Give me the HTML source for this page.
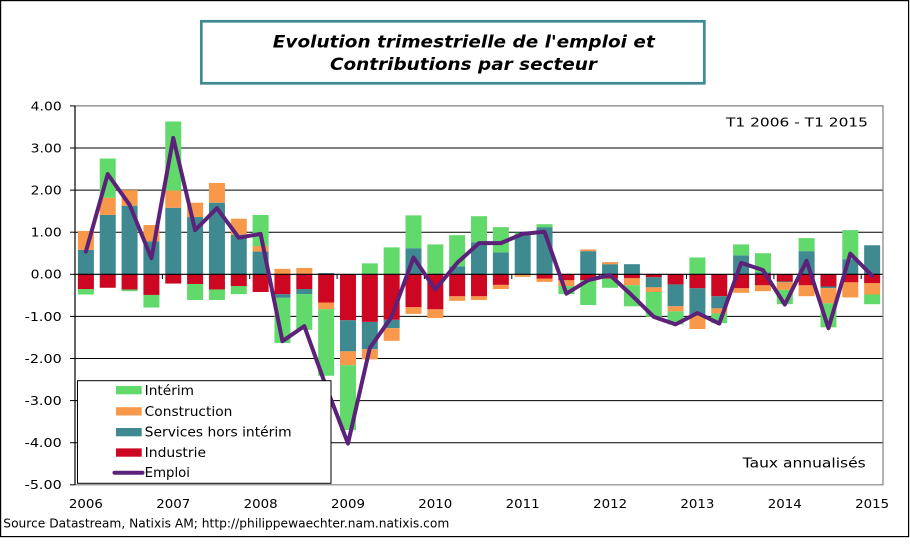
<!DOCTYPE html>
<html><head><meta charset="utf-8"><style>
html,body{margin:0;padding:0;background:#fff;}
svg{display:block;}
text{font-family:"DejaVu Sans","Liberation Sans",sans-serif;}
</style></head><body>
<svg width="910" height="545" viewBox="0 0 910 545" xmlns="http://www.w3.org/2000/svg">
<rect x="0" y="0" width="910" height="545" fill="#fff"/>
<rect x="0.6" y="0.6" width="908" height="536" fill="none" stroke="#000" stroke-width="1.2"/>
<!-- title -->
<rect x="201.3" y="21.3" width="503" height="62" fill="#fff" stroke="#3e8a90" stroke-width="2.7"/>
<text x="463.8" y="47.3" text-anchor="middle" font-size="17" font-weight="bold" font-style="italic" textLength="382" lengthAdjust="spacingAndGlyphs">Evolution trimestrielle de l'emploi et</text>
<text x="463.5" y="70" text-anchor="middle" font-size="17" font-weight="bold" font-style="italic" textLength="267" lengthAdjust="spacingAndGlyphs">Contributions par secteur</text>
<!-- gridlines -->
<g stroke="#000" stroke-width="1">
<line x1="75" y1="148" x2="883" y2="148"/>
<line x1="75" y1="190.1" x2="883" y2="190.1"/>
<line x1="75" y1="232.2" x2="883" y2="232.2"/>
<line x1="75" y1="316.4" x2="883" y2="316.4"/>
<line x1="75" y1="358.5" x2="883" y2="358.5"/>
<line x1="75" y1="400.6" x2="883" y2="400.6"/>
<line x1="75" y1="442.7" x2="883" y2="442.7"/>
</g>
<!-- bars -->
<g transform="translate(0,274.3) scale(1,-42.1)">
<g fill="#3e8a90">
<rect x="77.9" y="0" width="16" height="0.58"/>
<rect x="99.74" y="0" width="16" height="1.41"/>
<rect x="121.58" y="0" width="16" height="1.63"/>
<rect x="143.42" y="0" width="16" height="0.78"/>
<rect x="165.26" y="0" width="16" height="1.58"/>
<rect x="187.1" y="0" width="16" height="1.36"/>
<rect x="208.94" y="0" width="16" height="1.70"/>
<rect x="230.78" y="0" width="16" height="0.94"/>
<rect x="252.62" y="0" width="16" height="0.54"/>
<rect x="274.46" y="-0.56" width="16" height="0.09"/>
<rect x="296.3" y="-0.47" width="16" height="0.12"/>
<rect x="318.14" y="0" width="16" height="0.03"/>
<rect x="339.98" y="-1.83" width="16" height="0.74"/>
<rect x="361.82" y="-1.78" width="16" height="0.65"/>
<rect x="383.66" y="-1.28" width="16" height="0.20"/>
<rect x="405.5" y="0" width="16" height="0.62"/>
<rect x="449.18" y="0" width="16" height="0.19"/>
<rect x="471.02" y="0" width="16" height="0.76"/>
<rect x="492.86" y="0" width="16" height="0.52"/>
<rect x="514.7" y="0" width="16" height="0.93"/>
<rect x="536.54" y="0" width="16" height="1.12"/>
<rect x="580.22" y="0" width="16" height="0.55"/>
<rect x="602.06" y="0" width="16" height="0.24"/>
<rect x="623.9" y="0" width="16" height="0.24"/>
<rect x="645.74" y="-0.31" width="16" height="0.24"/>
<rect x="667.58" y="-0.76" width="16" height="0.52"/>
<rect x="689.42" y="-0.98" width="16" height="0.65"/>
<rect x="711.26" y="-0.81" width="16" height="0.29"/>
<rect x="733.1" y="0" width="16" height="0.45"/>
<rect x="754.94" y="0" width="16" height="0.05"/>
<rect x="776.78" y="-0.19" width="16" height="0.02"/>
<rect x="798.62" y="0" width="16" height="0.55"/>
<rect x="820.46" y="-0.33" width="16" height="0.04"/>
<rect x="842.3" y="0" width="16" height="0.36"/>
<rect x="864.14" y="0" width="16" height="0.69"/>
</g>
<g fill="#f7984a">
<rect x="77.9" y="0.58" width="16" height="0.45"/>
<rect x="99.74" y="1.41" width="16" height="0.41"/>
<rect x="121.58" y="1.63" width="16" height="0.37"/>
<rect x="143.42" y="0.78" width="16" height="0.39"/>
<rect x="165.26" y="1.58" width="16" height="0.41"/>
<rect x="187.1" y="1.36" width="16" height="0.34"/>
<rect x="208.94" y="1.70" width="16" height="0.47"/>
<rect x="230.78" y="0.94" width="16" height="0.38"/>
<rect x="252.62" y="0.54" width="16" height="0.13"/>
<rect x="274.46" y="0" width="16" height="0.13"/>
<rect x="296.3" y="0" width="16" height="0.15"/>
<rect x="318.14" y="-0.83" width="16" height="0.16"/>
<rect x="339.98" y="-2.16" width="16" height="0.33"/>
<rect x="361.82" y="-2.02" width="16" height="0.24"/>
<rect x="383.66" y="-1.58" width="16" height="0.30"/>
<rect x="405.5" y="-0.94" width="16" height="0.16"/>
<rect x="427.34" y="-1.04" width="16" height="0.21"/>
<rect x="449.18" y="-0.63" width="16" height="0.11"/>
<rect x="471.02" y="-0.61" width="16" height="0.09"/>
<rect x="492.86" y="-0.35" width="16" height="0.10"/>
<rect x="514.7" y="-0.06" width="16" height="0.06"/>
<rect x="536.54" y="-0.18" width="16" height="0.08"/>
<rect x="558.38" y="-0.28" width="16" height="0.14"/>
<rect x="580.22" y="0.55" width="16" height="0.04"/>
<rect x="602.06" y="0.24" width="16" height="0.05"/>
<rect x="623.9" y="-0.26" width="16" height="0.17"/>
<rect x="645.74" y="-0.42" width="16" height="0.11"/>
<rect x="667.58" y="-0.88" width="16" height="0.12"/>
<rect x="689.42" y="-1.30" width="16" height="0.32"/>
<rect x="711.26" y="-0.93" width="16" height="0.12"/>
<rect x="733.1" y="-0.44" width="16" height="0.11"/>
<rect x="754.94" y="-0.40" width="16" height="0.14"/>
<rect x="776.78" y="-0.37" width="16" height="0.18"/>
<rect x="798.62" y="-0.52" width="16" height="0.26"/>
<rect x="820.46" y="-0.69" width="16" height="0.36"/>
<rect x="842.3" y="-0.55" width="16" height="0.36"/>
<rect x="864.14" y="-0.48" width="16" height="0.27"/>
</g>
<g fill="#61d96b">
<rect x="77.9" y="-0.48" width="16" height="0.13"/>
<rect x="99.74" y="1.82" width="16" height="0.93"/>
<rect x="121.58" y="-0.40" width="16" height="0.04"/>
<rect x="143.42" y="-0.79" width="16" height="0.30"/>
<rect x="165.26" y="1.99" width="16" height="1.64"/>
<rect x="187.1" y="-0.61" width="16" height="0.38"/>
<rect x="208.94" y="-0.61" width="16" height="0.25"/>
<rect x="230.78" y="-0.47" width="16" height="0.19"/>
<rect x="252.62" y="0.67" width="16" height="0.74"/>
<rect x="274.46" y="-1.63" width="16" height="1.07"/>
<rect x="296.3" y="-1.32" width="16" height="0.85"/>
<rect x="318.14" y="-2.41" width="16" height="1.58"/>
<rect x="339.98" y="-3.70" width="16" height="1.54"/>
<rect x="361.82" y="0" width="16" height="0.26"/>
<rect x="383.66" y="0" width="16" height="0.64"/>
<rect x="405.5" y="0.62" width="16" height="0.78"/>
<rect x="427.34" y="0" width="16" height="0.71"/>
<rect x="449.18" y="0.19" width="16" height="0.74"/>
<rect x="471.02" y="0.76" width="16" height="0.62"/>
<rect x="492.86" y="0.52" width="16" height="0.60"/>
<rect x="514.7" y="0.93" width="16" height="0.06"/>
<rect x="536.54" y="1.12" width="16" height="0.07"/>
<rect x="558.38" y="-0.47" width="16" height="0.19"/>
<rect x="580.22" y="-0.73" width="16" height="0.59"/>
<rect x="602.06" y="-0.32" width="16" height="0.22"/>
<rect x="623.9" y="-0.76" width="16" height="0.50"/>
<rect x="645.74" y="-1.01" width="16" height="0.59"/>
<rect x="667.58" y="-1.19" width="16" height="0.31"/>
<rect x="689.42" y="0" width="16" height="0.40"/>
<rect x="711.26" y="-1.16" width="16" height="0.23"/>
<rect x="733.1" y="0.45" width="16" height="0.26"/>
<rect x="754.94" y="0.05" width="16" height="0.45"/>
<rect x="776.78" y="-0.71" width="16" height="0.34"/>
<rect x="798.62" y="0.55" width="16" height="0.31"/>
<rect x="820.46" y="-1.26" width="16" height="0.57"/>
<rect x="842.3" y="0.36" width="16" height="0.69"/>
<rect x="864.14" y="-0.71" width="16" height="0.23"/>
</g>
<g fill="#cd0622">
<rect x="77.9" y="-0.35" width="16" height="0.35"/>
<rect x="99.74" y="-0.32" width="16" height="0.32"/>
<rect x="121.58" y="-0.36" width="16" height="0.36"/>
<rect x="143.42" y="-0.49" width="16" height="0.49"/>
<rect x="165.26" y="-0.22" width="16" height="0.22"/>
<rect x="187.1" y="-0.23" width="16" height="0.23"/>
<rect x="208.94" y="-0.36" width="16" height="0.36"/>
<rect x="230.78" y="-0.28" width="16" height="0.28"/>
<rect x="252.62" y="-0.42" width="16" height="0.42"/>
<rect x="274.46" y="-0.47" width="16" height="0.47"/>
<rect x="296.3" y="-0.35" width="16" height="0.35"/>
<rect x="318.14" y="-0.67" width="16" height="0.67"/>
<rect x="339.98" y="-1.09" width="16" height="1.09"/>
<rect x="361.82" y="-1.13" width="16" height="1.13"/>
<rect x="383.66" y="-1.08" width="16" height="1.08"/>
<rect x="405.5" y="-0.78" width="16" height="0.78"/>
<rect x="427.34" y="-0.83" width="16" height="0.83"/>
<rect x="449.18" y="-0.52" width="16" height="0.52"/>
<rect x="471.02" y="-0.52" width="16" height="0.52"/>
<rect x="492.86" y="-0.25" width="16" height="0.25"/>
<rect x="536.54" y="-0.10" width="16" height="0.10"/>
<rect x="558.38" y="-0.14" width="16" height="0.14"/>
<rect x="580.22" y="-0.14" width="16" height="0.14"/>
<rect x="602.06" y="-0.10" width="16" height="0.10"/>
<rect x="623.9" y="-0.09" width="16" height="0.09"/>
<rect x="645.74" y="-0.07" width="16" height="0.07"/>
<rect x="667.58" y="-0.24" width="16" height="0.24"/>
<rect x="689.42" y="-0.33" width="16" height="0.33"/>
<rect x="711.26" y="-0.52" width="16" height="0.52"/>
<rect x="733.1" y="-0.33" width="16" height="0.33"/>
<rect x="754.94" y="-0.26" width="16" height="0.26"/>
<rect x="776.78" y="-0.17" width="16" height="0.17"/>
<rect x="798.62" y="-0.26" width="16" height="0.26"/>
<rect x="820.46" y="-0.29" width="16" height="0.29"/>
<rect x="842.3" y="-0.19" width="16" height="0.19"/>
<rect x="864.14" y="-0.21" width="16" height="0.21"/>
</g>
</g>
<!-- zero axis and ticks -->
<line x1="75" y1="274.3" x2="883" y2="274.3" stroke="#000" stroke-width="1.2"/>
<g stroke="#000" stroke-width="1">
<line x1="162.4" y1="274.3" x2="162.4" y2="279"/>
<line x1="249.7" y1="274.3" x2="249.7" y2="279"/>
<line x1="337.1" y1="274.3" x2="337.1" y2="279"/>
<line x1="424.4" y1="274.3" x2="424.4" y2="279"/>
<line x1="511.8" y1="274.3" x2="511.8" y2="279"/>
<line x1="599.2" y1="274.3" x2="599.2" y2="279"/>
<line x1="686.5" y1="274.3" x2="686.5" y2="279"/>
<line x1="773.9" y1="274.3" x2="773.9" y2="279"/>
<line x1="861.2" y1="274.3" x2="861.2" y2="279"/>
</g>
<!-- plot border -->
<polyline points="75,105.9 883,105.9 883,484.8 75,484.8" fill="none" stroke="#808080" stroke-width="1.2"/>
<!-- emploi line -->
<polyline fill="none" stroke="#5c2279" stroke-width="4" stroke-linejoin="round" stroke-linecap="round" points="85.9,251.6 107.74,174.1 129.58,204.8 151.42,258.3 173.26,137.9 195.1,230.1 216.94,208.2 238.78,237.7 260.62,233.9 282.46,341.2 304.3,326.1 326.14,386.7 347.98,443.5 369.82,348.0 391.66,316.8 413.5,257.5 435.34,289.5 457.18,262.9 479.02,243.1 500.86,243.1 522.7,233.9 544.54,231.8 566.38,293.7 588.22,280.2 610.06,275.1 631.9,295.4 653.74,316.8 675.58,324.4 697.42,313.0 719.26,323.6 741.1,262.9 762.94,270.1 784.78,304.6 806.62,260.8 828.46,328.2 850.3,253.7 872.14,275.6"/>
<!-- y axis -->
<line x1="75" y1="105.9" x2="75" y2="484.8" stroke="#000" stroke-width="1.2"/>
<g stroke="#000" stroke-width="1">
<line x1="70" y1="105.9" x2="75" y2="105.9"/>
<line x1="70" y1="148" x2="75" y2="148"/>
<line x1="70" y1="190.1" x2="75" y2="190.1"/>
<line x1="70" y1="232.2" x2="75" y2="232.2"/>
<line x1="70" y1="274.3" x2="75" y2="274.3"/>
<line x1="70" y1="316.4" x2="75" y2="316.4"/>
<line x1="70" y1="358.5" x2="75" y2="358.5"/>
<line x1="70" y1="400.6" x2="75" y2="400.6"/>
<line x1="70" y1="442.7" x2="75" y2="442.7"/>
<line x1="70" y1="484.8" x2="75" y2="484.8"/>
</g>
<g font-size="12" text-anchor="end" fill="#000">
<text x="61.7" y="110.3" textLength="31" lengthAdjust="spacingAndGlyphs">4.00</text>
<text x="61.7" y="152.4" textLength="31" lengthAdjust="spacingAndGlyphs">3.00</text>
<text x="61.7" y="194.5" textLength="31" lengthAdjust="spacingAndGlyphs">2.00</text>
<text x="61.7" y="236.6" textLength="31" lengthAdjust="spacingAndGlyphs">1.00</text>
<text x="61.7" y="278.7" textLength="31" lengthAdjust="spacingAndGlyphs">0.00</text>
<text x="61.7" y="320.8" textLength="37" lengthAdjust="spacingAndGlyphs">-1.00</text>
<text x="61.7" y="362.9" textLength="37" lengthAdjust="spacingAndGlyphs">-2.00</text>
<text x="61.7" y="405" textLength="37" lengthAdjust="spacingAndGlyphs">-3.00</text>
<text x="61.7" y="447.1" textLength="37" lengthAdjust="spacingAndGlyphs">-4.00</text>
<text x="61.7" y="489.2" textLength="37" lengthAdjust="spacingAndGlyphs">-5.00</text>
</g>
<g font-size="12" text-anchor="middle" fill="#000">
<text x="85.9" y="508" textLength="34" lengthAdjust="spacingAndGlyphs">2006</text>
<text x="173.3" y="508" textLength="34" lengthAdjust="spacingAndGlyphs">2007</text>
<text x="260.6" y="508" textLength="34" lengthAdjust="spacingAndGlyphs">2008</text>
<text x="348" y="508" textLength="34" lengthAdjust="spacingAndGlyphs">2009</text>
<text x="435.3" y="508" textLength="34" lengthAdjust="spacingAndGlyphs">2010</text>
<text x="522.7" y="508" textLength="34" lengthAdjust="spacingAndGlyphs">2011</text>
<text x="610.1" y="508" textLength="34" lengthAdjust="spacingAndGlyphs">2012</text>
<text x="697.4" y="508" textLength="34" lengthAdjust="spacingAndGlyphs">2013</text>
<text x="784.8" y="508" textLength="34" lengthAdjust="spacingAndGlyphs">2014</text>
<text x="872.1" y="508" textLength="34" lengthAdjust="spacingAndGlyphs">2015</text>
</g>
<text x="726" y="126.7" font-size="12" textLength="142" lengthAdjust="spacingAndGlyphs">T1 2006 - T1 2015</text>
<text x="742.7" y="467.3" font-size="13" textLength="123" lengthAdjust="spacingAndGlyphs">Taux annualisés</text>
<text x="3.3" y="527.3" font-size="12" textLength="446" lengthAdjust="spacingAndGlyphs">Source Datastream, Natixis AM; http://philippewaechter.nam.natixis.com</text>
<!-- legend -->
<rect x="77.5" y="380.7" width="253.5" height="102.6" fill="#fff" stroke="#000" stroke-width="1"/>
<rect x="116" y="386" width="25.7" height="8.3" fill="#61d96b"/>
<rect x="116" y="407.2" width="25.7" height="8.3" fill="#f7984a"/>
<rect x="116" y="428" width="25.7" height="8.3" fill="#3e8a90"/>
<rect x="116" y="448.4" width="25.7" height="8.3" fill="#cd0622"/>
<line x1="114.5" y1="472.8" x2="142.5" y2="472.8" stroke="#5c2279" stroke-width="4" stroke-linecap="round"/>
<g font-size="13" fill="#000">
<text x="144.7" y="395" textLength="49.3" lengthAdjust="spacingAndGlyphs">Intérim</text>
<text x="144.7" y="415.8" textLength="87.7" lengthAdjust="spacingAndGlyphs">Construction</text>
<text x="144.7" y="436.5" textLength="147" lengthAdjust="spacingAndGlyphs">Services hors intérim</text>
<text x="144.7" y="456.8" textLength="61.3" lengthAdjust="spacingAndGlyphs">Industrie</text>
<text x="144.7" y="477.2" textLength="45.3" lengthAdjust="spacingAndGlyphs">Emploi</text>
</g>
</svg>
</body></html>
